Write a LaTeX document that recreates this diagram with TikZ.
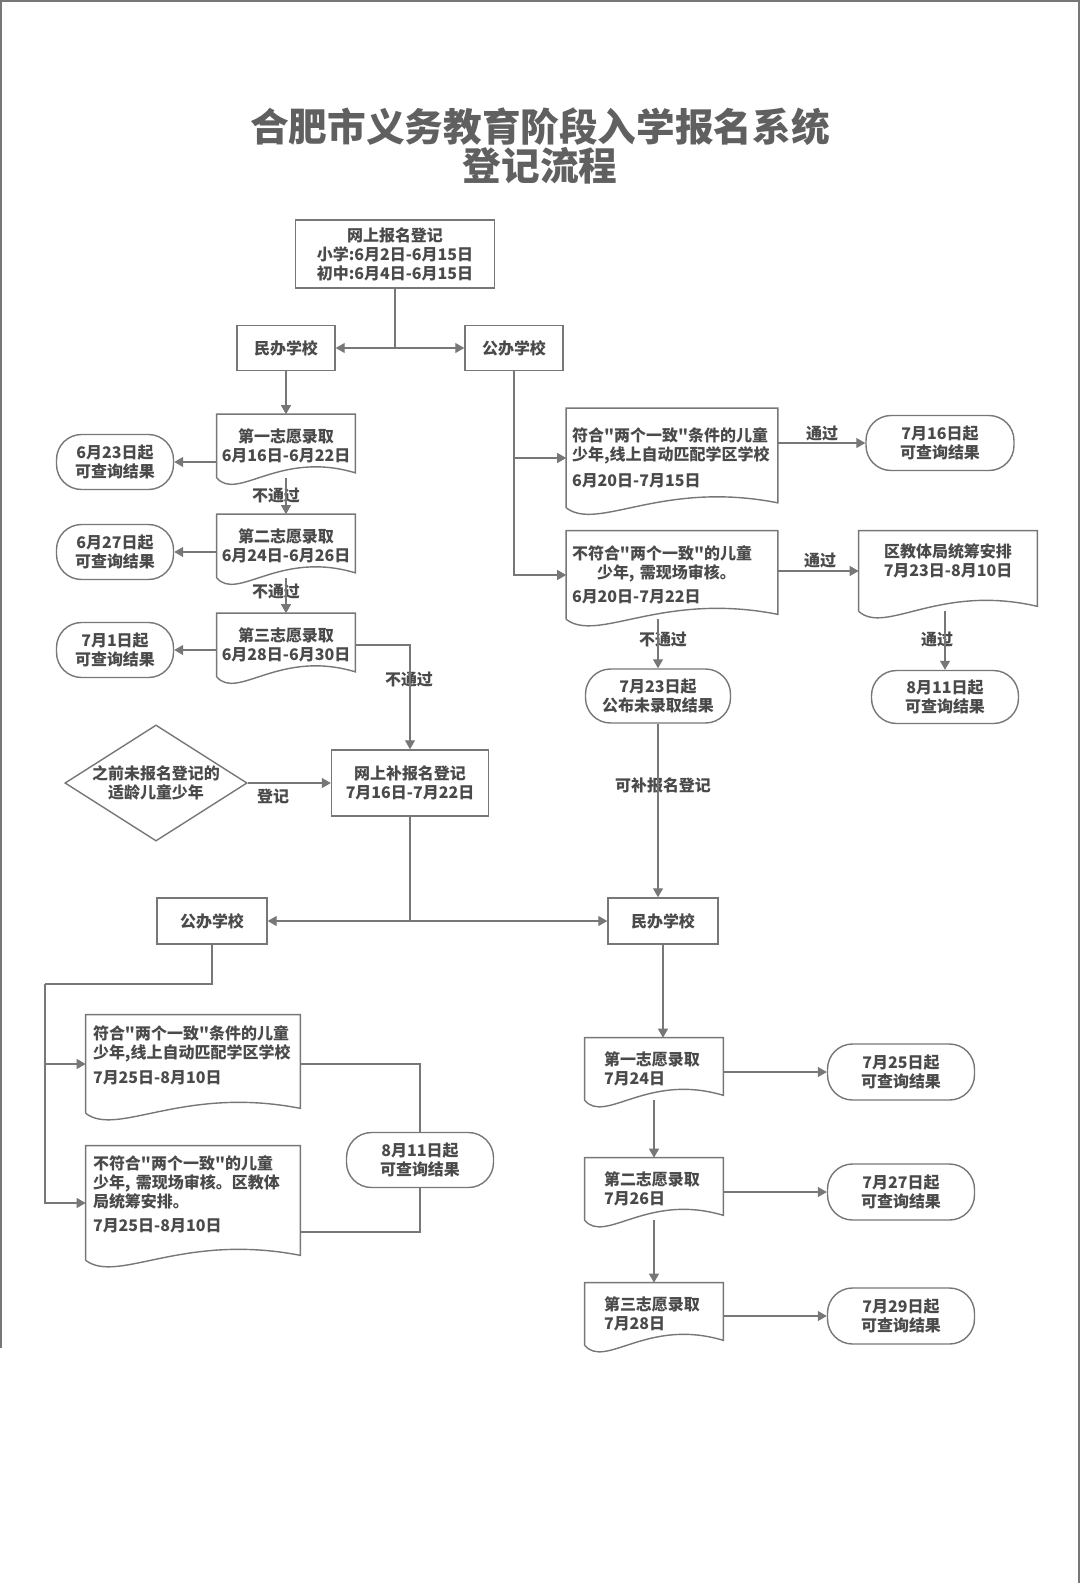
\documentclass[tikz,border=0pt]{standalone}
\usepackage{fontspec}
\setmainfont{Noto Sans CJK SC}[Ligatures=TeXOff]
\usepackage{xcolor}
\usetikzlibrary{arrows.meta,calc,shapes.geometric}

\definecolor{ink}{HTML}{4A4A4A}
\definecolor{edge}{HTML}{777777}
\definecolor{titlegray}{HTML}{606060}

% outline of a document shape drawn round a named node
\newcommand{\docframe}[1]{%
  \draw[frame] (#1.south west) -- (#1.north west) -- (#1.north east) -- ($(#1.south east)+(0,-5)$)
    .. controls ($(#1.south east)!0.55!(#1.south west)+(0,-28)$) and ($(#1.south east)!0.85!(#1.south west)+(0,24)$) .. (#1.south west);}

\begin{document}
\begin{tikzpicture}[x=0.02cm, y=-0.02cm,
    base/.style={font=\fontsize{9.1}{10.8}\selectfont\bfseries, text=ink},
    box/.style={base, rectangle, draw=edge, line width=0.8pt, align=center, inner sep=0pt},
    endbox/.style={base, rectangle, rounded corners=0.5cm, draw=edge, line width=0.8pt, align=center, minimum width=2.94cm, minimum height=1.1cm},
    docbox/.style={base, rectangle, align=center, inner sep=0pt},
    decision/.style={base, diamond, draw=edge, line width=0.8pt, align=center, aspect=1.57, inner sep=0pt},
    frame/.style={draw=edge, line width=0.8pt},
    flow/.style={draw=edge, line width=0.6pt},
    arr/.style={flow, -{Triangle[length=0.18cm, width=0.2cm]}},
    lbl/.style={base, inner sep=0pt}
]
    \useasboundingbox (0,0) rectangle (1080,1583);
    \draw[edge, line width=0.6pt] (1,1348) -- (1,1) -- (1079,1) -- (1079,1583);

    % Title
    \node[base, font=\fontsize{22}{21}\selectfont\bfseries, text=titlegray, align=center] (title) at (540,146) {合肥市义务教育阶段入学报名系统\\登记流程};

    % Online registration
    \node[box, minimum width=3.98cm, minimum height=1.36cm] (reg) at (395,254) {网上报名登记\\小学:6月2日-6月15日\\初中:6月4日-6月15日};
    \node[box, minimum width=1.96cm, minimum height=0.9cm] (minA) at (286,348) {民办学校};
    \node[box, minimum width=1.96cm, minimum height=0.9cm] (pubA) at (514,348) {公办学校};

    % Private schools, first rounds
    \node[docbox, minimum width=2.76cm, minimum height=1.26cm] (pr1) at (286,446) {第一志愿录取\\6月16日-6月22日};
    \node[docbox, minimum width=2.76cm, minimum height=1.26cm] (pr2) at (286,546) {第二志愿录取\\6月24日-6月26日};
    \node[docbox, minimum width=2.76cm, minimum height=1.26cm] (pr3) at (286,645) {第三志愿录取\\6月28日-6月30日};
    \node[endbox, minimum width=2.34cm] (res1) at (115,462) {6月23日起\\可查询结果};
    \node[endbox, minimum width=2.34cm] (res2) at (115,552) {6月27日起\\可查询结果};
    \node[endbox, minimum width=2.34cm] (res3) at (115,650) {7月1日起\\可查询结果};
    \node[lbl] (fail1) at (276,496) {不通过};
    \node[lbl] (fail2) at (276,592) {不通过};
    \node[lbl] (fail3) at (409,679) {不通过};

    % Public schools, first rounds
    \node[docbox, minimum width=4.22cm, minimum height=1.98cm, text width=4.0cm, align=left] (pubdoc1) at (672,458) {符合"两个一致"条件的儿童\\少年,线上自动匹配学区学校\\[4pt]6月20日-7月15日};
    \node[docbox, minimum width=4.22cm, minimum height=1.76cm, text width=4.0cm, align=left] (pubdoc2) at (672,575) {不符合"两个一致"的儿童\\\hspace*{0.5cm}少年, 需现场审核。\\[3pt]6月20日-7月22日};
    \node[docbox, minimum width=3.56cm, minimum height=1.6cm] (bureau) at (948,571) {区教体局统筹安排\\7月23日-8月10日\\[2pt]\mbox{}};
    \node[endbox, minimum width=2.96cm] (pass1) at (940,443) {7月16日起\\可查询结果};
    \node[endbox, minimum width=2.9cm, minimum height=1.08cm] (unadm) at (658,696) {7月23日起\\公布未录取结果};
    \node[endbox, minimum height=1.06cm] (pass2) at (945,697) {8月11日起\\可查询结果};
    \node[lbl] (ok1) at (822,434) {通过};
    \node[lbl] (ok2) at (820,561) {通过};
    \node[lbl] (fail4) at (663,640) {不通过};
    \node[lbl] (ok3) at (937,640) {通过};
    \node[lbl] (again) at (663,785) {可补报名登记};

    % Supplementary registration
    \node[decision, minimum width=3.62cm, minimum height=2.3cm] (late) at (156,783) {之前未报名登记的\\适龄儿童少年};
    \node[box, minimum width=3.14cm, minimum height=1.32cm] (supp) at (410,783) {网上补报名登记\\7月16日-7月22日};
    \node[lbl] (signup) at (273,796) {登记};
    \node[box, minimum width=2.2cm, minimum height=0.92cm] (pubB) at (212,921) {公办学校};
    \node[box, minimum width=2.2cm, minimum height=0.92cm] (minB) at (663,921) {民办学校};

    % Public schools, second rounds
    \node[docbox, minimum width=4.28cm, minimum height=1.96cm, text width=4.0cm, align=left] (pubdoc3) at (193,1064) {符合"两个一致"条件的儿童\\少年,线上自动匹配学区学校\\[3pt]7月25日-8月10日\\\mbox{}};
    \node[docbox, minimum width=4.28cm, minimum height=2.28cm, text width=4.0cm, align=left] (pubdoc4) at (193,1203) {不符合"两个一致"的儿童\\少年, 需现场审核。区教体\\局统筹安排。\\[3pt]7月25日-8月10日\\\mbox{}};
    \node[endbox, minimum height=1.1cm] (pass3) at (420,1160) {8月11日起\\可查询结果};

    % Private schools, second rounds
    \node[docbox, minimum width=2.76cm, minimum height=1.24cm, text width=2.0cm, align=left] (pv1) at (654,1069) {第一志愿录取\\7月24日};
    \node[docbox, minimum width=2.76cm, minimum height=1.24cm, text width=2.0cm, align=left] (pv2) at (654,1189) {第二志愿录取\\7月26日};
    \node[docbox, minimum width=2.76cm, minimum height=1.24cm, text width=2.0cm, align=left] (pv3) at (654,1314) {第三志愿录取\\7月28日};
    \node[endbox, minimum height=1.12cm] (pvres1) at (901,1072) {7月25日起\\可查询结果};
    \node[endbox, minimum height=1.12cm] (pvres2) at (901,1192) {7月27日起\\可查询结果};
    \node[endbox, minimum height=1.12cm] (pvres3) at (901,1316) {7月29日起\\可查询结果};

    % Document outlines
    \docframe{pr1} \docframe{pr2} \docframe{pr3}
    \docframe{pubdoc1} \docframe{pubdoc2} \docframe{bureau}
    \docframe{pubdoc3} \docframe{pubdoc4}
    \docframe{pv1} \docframe{pv2} \docframe{pv3}

    % Connectors
    \coordinate (split) at (reg.south |- minA.east);
    \draw[flow] (reg.south) -- (split);
    \draw[arr] (split) -- (minA.east);
    \draw[arr] (split) -- (pubA.west);

    \draw[arr] (minA) -- (pr1);
    \draw[arr] (pr1) -- (pr2);
    \draw[arr] (pr2) -- (pr3);
    \draw[arr] (pr1.west |- res1.east) -- (res1.east);
    \draw[arr] (pr2.west |- res2.east) -- (res2.east);
    \draw[arr] (pr3.west |- res3.east) -- (res3.east);
    \draw[arr] (pr3.east) -| (supp.north);

    \draw[arr] (pubA.south) |- (pubdoc1.west);
    \draw[arr] (pubA.south) |- (pubdoc2.west);
    \draw[arr] (pubdoc1.east |- pass1.west) -- (pass1.west);
    \draw[arr] (pubdoc2.east |- bureau.west) -- (bureau.west);
    \draw[arr] (unadm.north |- pubdoc2.south) -- (unadm.north);
    \draw[arr] (pass2.north |- bureau.south) -- (pass2.north);
    \draw[arr] (unadm.south) -- (unadm.south |- minB.north);

    \draw[arr] (late.east) -- (supp.west);
    \coordinate (split2) at (supp.south |- pubB.east);
    \draw[flow] (supp.south) -- (split2);
    \draw[arr] (split2) -- (pubB.east);
    \draw[arr] (split2) -- (minB.west);

    \coordinate (rail) at (45,984);
    \draw[flow] (pubB.south) |- (rail);
    \draw[arr] (rail) |- (pubdoc3.west);
    \draw[arr] (rail) |- (pubdoc4.west);
    \draw[flow] (pubdoc3.east) -| (pass3.north);
    \draw[flow] (pass3.south) |- ($(pubdoc4.east)+(0,29)$);

    \draw[arr] (minB.south) -- (minB.south |- pv1.north);
    \draw[arr] (pv1) -- (pv2);
    \draw[arr] (pv2) -- (pv3);
    \draw[arr] (pv1.east |- pvres1.west) -- (pvres1.west);
    \draw[arr] (pv2.east |- pvres2.west) -- (pvres2.west);
    \draw[arr] (pv3.east |- pvres3.west) -- (pvres3.west);
\end{tikzpicture}
\end{document}
